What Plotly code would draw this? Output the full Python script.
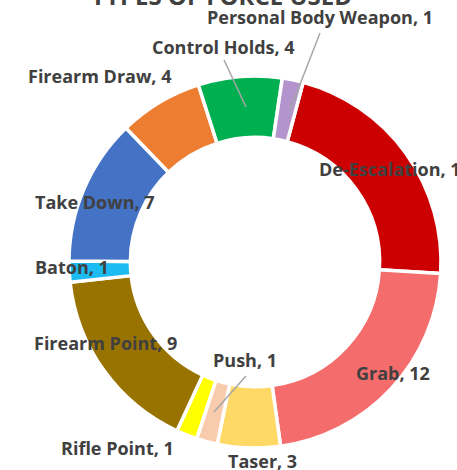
import plotly.graph_objects as go

# ---- data ----
categories = ["De-Escalation", "Grab", "Taser", "Push", "Rifle Point", "Firearm Point",
              "Baton", "Take Down", "Firearm Draw", "Control Holds", "Personal Body Weapon"]
values = [12, 12, 3, 1, 1, 9, 1, 7, 4, 4, 1]
colors = ["#CC0000", "#F56C6C", "#FFD966", "#F8CBAD", "#FFFF00", "#997300",
          "#1CBBF2", "#4472C4", "#ED7D31", "#00B050", "#B394CC"]

# ---- layout geometry (pixels) ----
W, H = 457, 470
ML, MR, MT, MB = 69, 16, 76, 22
PW, PH = W - ML - MR, H - MT - MB


def px(x, y):
    return (x - ML) / PW, (H - MB - y) / PH


# label placement (pixel centres) and anchors
label_pos = {
    "Personal Body Weapon": (320, 17, "center"),
    "Control Holds": (223, 47, "center"),
    "Firearm Draw": (99, 76, "center"),
    "De-Escalation": (317, 169, "left"),
    "Take Down": (95, 202, "center"),
    "Baton": (72, 267, "center"),
    "Firearm Point": (105, 343, "center"),
    "Push": (245, 360, "center"),
    "Grab": (393, 373, "center"),
    "Rifle Point": (117, 448, "center"),
    "Taser": (262, 461, "center"),
}
leader_lines = [
    ((246, 107), (224, 60)),
    ((290, 110), (320, 33)),
    ((214, 412), (246, 376)),
]

fig = go.Figure(go.Pie(
    labels=categories,
    values=values,
    sort=False,
    direction="clockwise",
    rotation=15,
    hole=0.67,
    marker=dict(colors=colors, line=dict(color="white", width=3.5)),
    textinfo="none",
    hoverinfo="label+value",
    showlegend=False,
))

annotations = []
for cat, val in zip(categories, values):
    x, y, anchor = label_pos[cat]
    ax, ay = px(x, y)
    annotations.append(dict(
        x=ax, y=ay, xref="paper", yref="paper",
        text=f"{cat}, {val}", showarrow=False,
        xanchor=anchor, yanchor="middle",
        font=dict(family="Open Sans", size=18, color="#404040", weight="bold"),
    ))

tx, ty = px(221, -4)
annotations.append(dict(
    x=tx, y=ty, xref="paper", yref="paper", text="TYPES OF FORCE USED",
    showarrow=False, xanchor="center", yanchor="middle",
    font=dict(family="Open Sans", size=24, color="#404040", weight="bold"),
))

shapes = []
for (x0, y0), (x1, y1) in leader_lines:
    a0, b0 = px(x0, y0)
    a1, b1 = px(x1, y1)
    shapes.append(dict(type="line", xref="paper", yref="paper",
                       x0=a0, y0=b0, x1=a1, y1=b1,
                       line=dict(color="#A6A6A6", width=1.5)))

fig.update_layout(
    width=W, height=H,
    margin=dict(l=ML, r=MR, t=MT, b=MB, autoexpand=False),
    paper_bgcolor="white", plot_bgcolor="white",
    annotations=annotations, shapes=shapes,
)

fig.write_html("out.html", config={"displayModeBar": False},
               post_script="document.body.style.margin='0';document.body.style.overflow='hidden';")
